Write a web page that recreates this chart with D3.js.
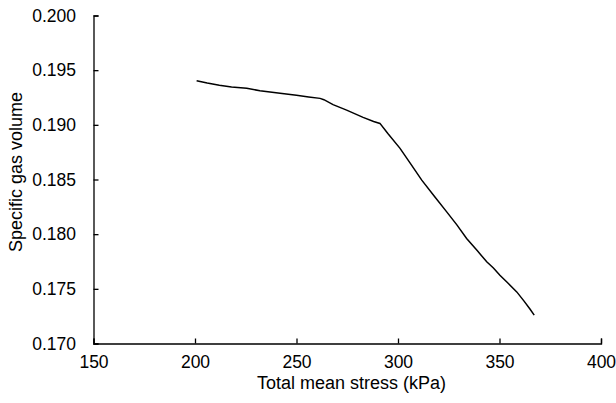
<!DOCTYPE html>
<html>
<head>
<meta charset="utf-8">
<script src="https://cdn.jsdelivr.net/npm/d3@7"></script>
<style>
    body { margin: 0; background: #fff; }
    text { font-family: "Liberation Sans", Arial, sans-serif; fill: #000; }
    .tick text { font-size: 17.5px; }
    .title { font-size: 18px; }
</style>
</head>
<body>
<svg id="svg1" width="616" height="403"></svg>
<script>
const stress = [200.8, 206, 212, 218, 225.5, 232, 241.9, 250, 256, 261.6, 263.5,
    268, 274.7, 282.8, 288, 291.1, 295, 301, 306, 311.7, 318, 324, 329, 333.8,
    339, 343.7, 347, 350.2, 354, 358.5, 362, 365, 367.1];
const gasVolume = [0.19403, 0.19382, 0.19362, 0.19345, 0.19334, 0.19312, 0.19288, 0.19270, 0.19255, 0.19242, 0.19230,
    0.19185, 0.19135, 0.19068, 0.19030, 0.19013, 0.18920, 0.18785, 0.18650, 0.18494, 0.18345, 0.18204, 0.18085, 0.17961,
    0.17850, 0.17747, 0.17690, 0.17625, 0.17555, 0.17472, 0.17390, 0.17315, 0.17259];
const xTicks = [150, 200, 250, 300, 350, 400];
const yTicks = [0.170, 0.175, 0.180, 0.185, 0.190, 0.195, 0.200];

const attr = {
    left: 93.5,
    right: 601,
    top: 15.5,
    bottom: 343.5,
    tick: 5
};

const svg = d3.select("#svg1");

const x = d3.scaleLinear().domain([150, 400]).range([attr.left, attr.right]);
const y = d3.scaleLinear().domain([0.170, 0.200]).range([attr.bottom, attr.top]);

const xAxis = svg.append("g")
    .attr("transform", "translate(0," + attr.bottom + ")")
    .call(d3.axisBottom(x).tickValues(xTicks).tickSize(-attr.tick).tickPadding(12).tickFormat(d3.format("d")));

const yAxis = svg.append("g")
    .attr("transform", "translate(" + attr.left + ",0)")
    .call(d3.axisLeft(y).tickValues(yTicks).tickSize(-attr.tick).tickPadding(17.5).tickFormat(d3.format(".3f")));

[xAxis, yAxis].forEach(function(g) {
    g.attr("font-family", null).attr("font-size", null);
    g.select(".domain").attr("stroke", "#000").attr("stroke-width", 1.3);
    g.selectAll(".tick line").attr("stroke", "#000").attr("stroke-width", 1.3);
});

const line = d3.line()
    .x((d, i) => x(stress[i]))
    .y(d => y(d));

svg.append("path")
    .datum(gasVolume)
    .attr("d", line)
    .attr("fill", "none")
    .attr("stroke", "#000")
    .attr("stroke-width", 1.5);

svg.append("text")
    .attr("class", "title")
    .attr("x", 351.5)
    .attr("y", 389)
    .attr("text-anchor", "middle")
    .text("Total mean stress (kPa)");

svg.append("text")
    .attr("class", "title")
    .attr("transform", "translate(22,172) rotate(-90)")
    .attr("text-anchor", "middle")
    .text("Specific gas volume");
</script>
</body>
</html>
